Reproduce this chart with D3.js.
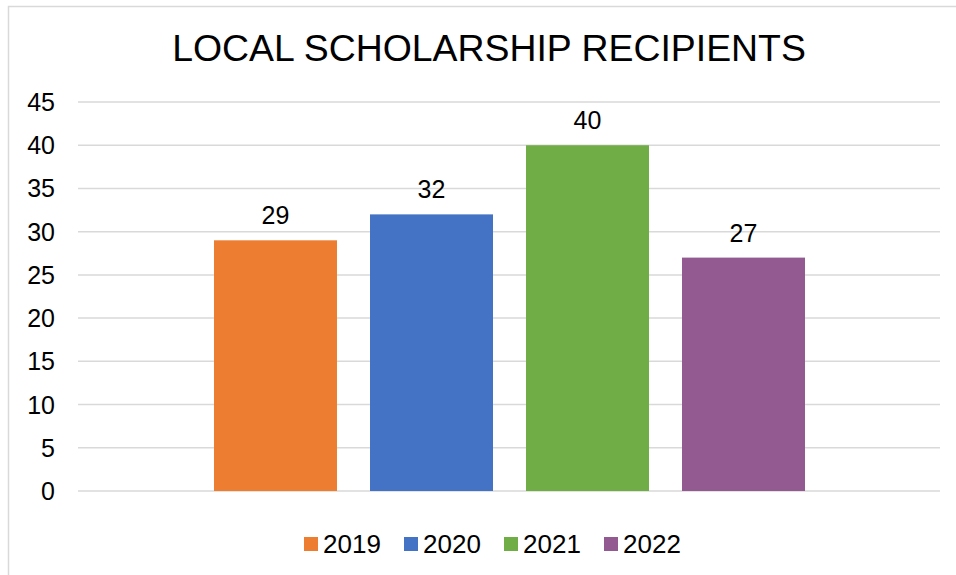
<!DOCTYPE html>
<html lang="en">
<head>
<meta charset="UTF-8">
<title>Local Scholarship Recipients</title>
<script src="https://d3js.org/d3.v7.min.js"></script>
<style>
    * { margin: 0; padding: 0; box-sizing: border-box; }
    body { background: #fff; width: 956px; height: 575px; overflow: hidden; }
    svg { display: block; font-family: 'Liberation Sans', Arial, sans-serif; }
    .grid line { stroke: #d9d9d9; stroke-width: 1.5; }
    .tick-label, .value-label { fill: #000; font-size: 25px; }
    .legend-label { fill: #000; font-size: 26px; }
</style>
</head>
<body>
<div id="chart"></div>
<script>
    // Chart data
    const years = ["2019", "2020", "2021", "2022"];
    const recipients = [29, 32, 40, 27];
    const colors = ["#ED7D31", "#4472C4", "#70AD47", "#925A91"];
    const yTicks = [0, 5, 10, 15, 20, 25, 30, 35, 40, 45];

    const width = 956, height = 575;
    const plot = { left: 78, right: 940, top: 102, bottom: 491 };

    const svg = d3.select("#chart").append("svg")
        .attr("width", width)
        .attr("height", height);

    // outer chart border (right/bottom edges fall outside the picture)
    svg.append("rect")
        .attr("x", 8.5).attr("y", 6.5)
        .attr("width", 1000).attr("height", 1000)
        .attr("fill", "none")
        .attr("stroke", "#d9d9d9")
        .attr("stroke-width", 1.5);

    svg.append("text")
        .attr("x", 489).attr("y", 61)
        .attr("text-anchor", "middle")
        .style("font-size", "37.4px")
        .attr("fill", "#000")
        .text("LOCAL SCHOLARSHIP RECIPIENTS");

    const y = d3.scaleLinear().domain([0, 45]).range([plot.bottom, plot.top]);

    // one category, four series clustered in the middle
    const x = d3.scaleBand()
        .domain(years)
        .range([214, 805])
        .paddingInner(33 / 156);

    const grid = svg.append("g").attr("class", "grid");
    grid.selectAll("line")
        .data(yTicks)
        .enter().append("line")
        .attr("x1", plot.left).attr("x2", plot.right)
        .attr("y1", d => y(d)).attr("y2", d => y(d));

    svg.selectAll(".tick-label")
        .data(yTicks)
        .enter().append("text")
        .attr("class", "tick-label")
        .attr("x", 55)
        .attr("y", d => y(d))
        .attr("dy", "0.36em")
        .attr("text-anchor", "end")
        .text(d => d);

    svg.selectAll(".bar")
        .data(recipients)
        .enter().append("rect")
        .attr("class", "bar")
        .attr("x", (d, i) => x(years[i]))
        .attr("y", d => y(d))
        .attr("width", x.bandwidth())
        .attr("height", d => y(0) - y(d))
        .attr("fill", (d, i) => colors[i]);

    svg.selectAll(".value-label")
        .data(recipients)
        .enter().append("text")
        .attr("class", "value-label")
        .attr("x", (d, i) => x(years[i]) + x.bandwidth() / 2)
        .attr("y", d => y(d) - 16)
        .attr("text-anchor", "middle")
        .text(d => d);

    // legend
    const legend = svg.append("g");
    const item = legend.selectAll("g")
        .data(years)
        .enter().append("g")
        .attr("transform", (d, i) => `translate(${304 + i * 100}, 537)`);
    item.append("rect")
        .attr("width", 14).attr("height", 14)
        .attr("fill", (d, i) => colors[i]);
    item.append("text")
        .attr("class", "legend-label")
        .attr("x", 19).attr("y", 7)
        .attr("dy", "0.36em")
        .text(d => d);
</script>
</body>
</html>
